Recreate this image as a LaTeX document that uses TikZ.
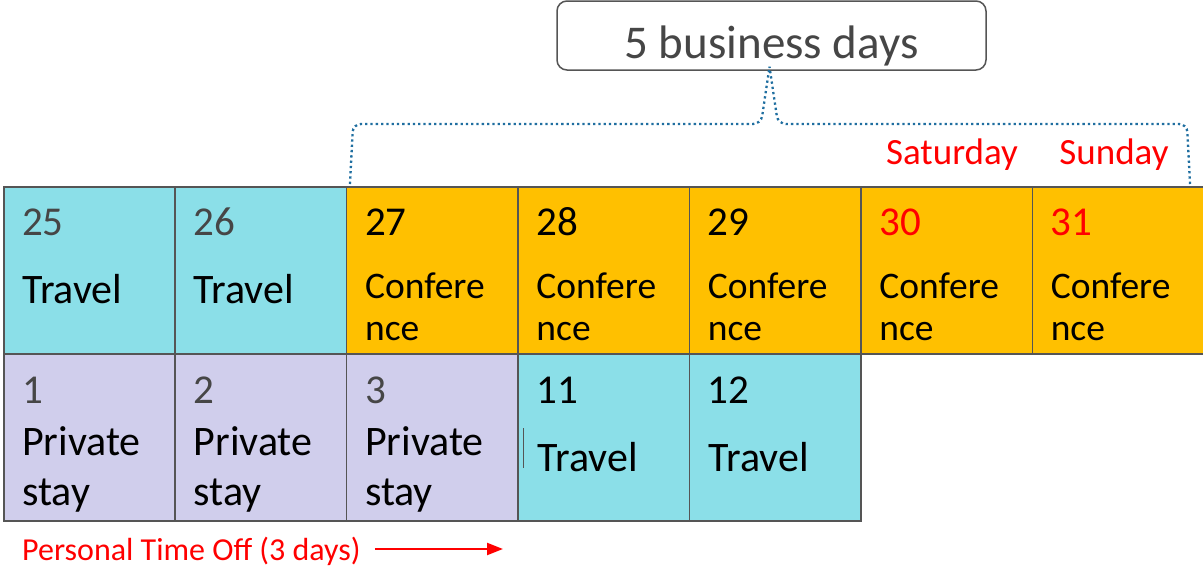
\documentclass[tikz,border=0pt]{standalone}
\usepackage{fontspec}
\setmainfont{Carlito}
\usetikzlibrary{arrows.meta}

\definecolor{travel}{RGB}{139,223,232}
\definecolor{conf}{RGB}{255,192,0}
\definecolor{private}{RGB}{208,206,236}
\definecolor{gridline}{RGB}{85,85,85}
\definecolor{daygray}{RGB}{70,70,70}
\definecolor{bracecol}{RGB}{31,110,160}

\begin{document}
\begin{tikzpicture}[x=1pt, y=-1pt,
    cell/.style={draw=gridline, line width=1.6pt, anchor=north west, inner sep=0pt,
                 minimum width=171.43pt, minimum height=167pt},
    num/.style={anchor=base west, inner sep=0pt, font=\fontsize{41}{49}\selectfont},
    word/.style={anchor=base west, inner sep=0pt, font=\fontsize{42}{50}\selectfont},
    confword/.style={anchor=base west, inner sep=0pt, font=\fontsize{37.5}{45}\selectfont},
    weekend/.style={text=red, font=\fontsize{37}{44}\selectfont},
    brace/.style={draw=bracecol, line width=2.3pt, dash pattern=on 2.3pt off 3pt,
                  rounded corners=8pt}]
    \useasboundingbox (0,0) rectangle (1203,571);

    % Top row: 25 to 31
    \foreach \i/\d/\fc/\nc in {0/25/travel/daygray, 1/26/travel/daygray, 2/27/conf/black,
                               3/28/conf/black, 4/29/conf/black, 5/30/conf/red, 6/31/conf/red} {
        \node[cell, fill=\fc] (c\d) at ({3+171.43*\i},186) {};
        \node[num, text=\nc] (n\d) at ([xshift=19pt, yshift=-49pt]c\d.north west) {\d};
    }
    \foreach \d in {25,26}
        \node[word] (w\d) at ([xshift=19pt, yshift=-117pt]c\d.north west) {Travel};
    \foreach \d in {27,28,29,30,31} {
        \node[confword] (wa\d) at ([xshift=19pt, yshift=-112pt]c\d.north west) {Confere};
        \node[confword] (wb\d) at ([xshift=19pt, yshift=-154pt]c\d.north west) {nce};
    }

    % Bottom row: 1 to 3 and 11, 12
    \foreach \i/\d/\fc/\nc in {0/1/private/daygray, 1/2/private/daygray, 2/3/private/daygray,
                               3/11/travel/black, 4/12/travel/black} {
        \node[cell, fill=\fc] (c\d) at ({3+171.43*\i},353) {};
        \node[num, text=\nc] (n\d) at ([xshift=19pt, yshift=-50pt]c\d.north west) {\d};
    }
    \foreach \d in {1,2,3} {
        \node[word] (wa\d) at ([xshift=19pt, yshift=-102pt]c\d.north west) {Private};
        \node[word] (wb\d) at ([xshift=19pt, yshift=-152pt]c\d.north west) {stay};
    }
    \foreach \d in {11,12}
        \node[word] (w\d) at ([xshift=20pt, yshift=-118pt]c\d.north west) {Travel};
    \draw[gridline, line width=1pt] (523,428) -- (523,468);

    % Weekend labels
    \node[weekend] (sat) at (952,155) {Saturday};
    \node[weekend] (sun) at (1114,155) {Sunday};

    % Business days box and its bracket
    \node[draw=gridline, line width=1.5pt, rounded corners=10pt, minimum width=429pt,
          minimum height=69pt, inner sep=0pt] (bizdays) at (771.5,35.5) {};
    \node[anchor=base, inner sep=0pt, text=daygray, font=\fontsize{47}{56}\selectfont]
        (bizlabel) at (771.5,58) {5 business days};
    \coordinate (tip) at ([xshift=-2pt, yshift=4pt]bizdays.south);
    \coordinate (bl) at (350,184);
    \coordinate (br) at (1190,184);
    \draw[brace] (bl) -- (353,124) -- (761,124) -- (tip);
    \draw[brace] (br) -- (1187,124) -- (778,124) -- (tip);

    % Personal time off note
    \node[anchor=west, inner sep=0pt, text=red, font=\fontsize{32}{38}\selectfont]
        (pto) at (22,551) {Personal Time Off (3 days)};
    \coordinate (ptoend) at (503,549);
    \draw[red, line width=2.2pt, -{Triangle[length=16pt, width=12pt]}]
        ([xshift=14pt, yshift=2pt]pto.east) -- (ptoend);
\end{tikzpicture}
\end{document}
